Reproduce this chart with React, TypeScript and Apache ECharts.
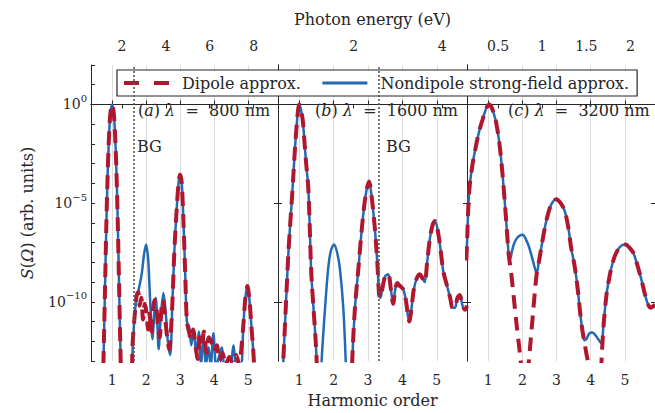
import React, { useEffect, useRef } from "react";
import * as echarts from "echarts";

// ---------- data ----------
const harmonicTicks = [1, 2, 3, 4, 5];
const energyTicksA = [2, 4, 6, 8];
const energyTicksB = [2, 4];
const energyTicksC = [0.5, 1, 1.5, 2];
const wavelengthsNm = [800, 1600, 3200];
const panelLetters = ["a", "b", "c"];
const bandGapHarmonicA = 1.65;
const bandGapHarmonicB = 3.3;
const yExpLabels = [-10, -5, 0];

// [harmonic order, log10 S]
const aNsfa = [
  [0.38, -16], [0.7, -16], [0.73, -14.2], [0.76, -12], [0.79, -9.5], [0.83, -6.2], [0.87, -3.5], [0.91, -1.6], [0.95, -0.45],
  [1.0, 0], [1.05, -0.45], [1.09, -1.6], [1.13, -3.5], [1.17, -6.2], [1.21, -9.5], [1.24, -12], [1.27, -14.2], [1.3, -16],
  [1.55, -16], [1.59, -13], [1.65, -11], [1.72, -9.8], [1.78, -9.4], [1.87, -8.6], [1.94, -7.6], [2.0, -7.1], [2.06, -7.8],
  [2.1, -9.2], [2.13, -10.3], [2.19, -11.9], [2.24, -10.6], [2.29, -9.8], [2.33, -11], [2.37, -12.4], [2.43, -10.8],
  [2.51, -9.55], [2.58, -10.6], [2.64, -12], [2.71, -12.7], [2.77, -10.2], [2.83, -7.5], [2.9, -5.3], [2.96, -3.9],
  [3.0, -3.55], [3.05, -4.0], [3.1, -6.0], [3.15, -8.5], [3.2, -11], [3.27, -11.3], [3.33, -12.2], [3.4, -11.4],
  [3.48, -12.8], [3.55, -11.5], [3.62, -13.2], [3.69, -11.7], [3.76, -13.2], [3.84, -12.3], [3.9, -13.3], [3.98, -11.6],
  [4.06, -13.3], [4.14, -12.8], [4.23, -12.3], [4.31, -13.4], [4.4, -13.1], [4.48, -13.3], [4.57, -12.2], [4.66, -13.4],
  [4.74, -13.1], [4.8, -13.2], [4.86, -11.2], [4.92, -9.8], [4.98, -9.2], [5.04, -9.9], [5.1, -11.3], [5.17, -13],
  [5.22, -16], [5.88, -16],
];
const aDipole = [
  [0.38, -16], [0.7, -16], [0.73, -14.2], [0.76, -12], [0.79, -9.5], [0.83, -6.2], [0.87, -3.5], [0.91, -1.6], [0.95, -0.45],
  [1.0, 0], [1.05, -0.45], [1.09, -1.6], [1.13, -3.5], [1.17, -6.2], [1.21, -9.5], [1.24, -12], [1.27, -14.2], [1.3, -16],
  [1.55, -16], [1.6, -12.3], [1.66, -10.8], [1.72, -9.7], [1.77, -9.5], [1.81, -10.2], [1.86, -9.8], [1.91, -10.9],
  [1.96, -10.1], [2.01, -10.5], [2.06, -11.4], [2.1, -10.6], [2.15, -11.6], [2.2, -10.4], [2.25, -9.9], [2.3, -10.2],
  [2.35, -11.3], [2.4, -11.8], [2.45, -10.4], [2.5, -9.9], [2.56, -10.8], [2.62, -11.8], [2.68, -12.4], [2.72, -11.8],
  [2.77, -10.2], [2.83, -7.5], [2.9, -5.3], [2.96, -3.9], [3.0, -3.55], [3.05, -4.0], [3.1, -6.0], [3.15, -8.5],
  [3.2, -11], [3.26, -11.5], [3.32, -11.9], [3.38, -11.4], [3.46, -12.3], [3.52, -12.9], [3.58, -11.8], [3.64, -12.2],
  [3.7, -11.5], [3.78, -12.6], [3.84, -11.8], [3.92, -12.0], [4.0, -12.5], [4.08, -12.2], [4.16, -13.0], [4.25, -12.6],
  [4.34, -13.2], [4.45, -12.8], [4.55, -13.1], [4.65, -12.7], [4.74, -13.2], [4.8, -12.4], [4.86, -11.2], [4.92, -9.8],
  [4.98, -9.2], [5.04, -9.9], [5.1, -11.3], [5.17, -13], [5.22, -16], [5.88, -16],
];

const bNsfa = [
  [0.38, -16], [0.5, -16], [0.535, -13], [0.58, -11.3], [0.63, -9.4], [0.68, -7.6], [0.73, -6.2], [0.78, -4.9], [0.83, -3.5],
  [0.875, -2.2], [0.93, -0.9], [0.97, -0.2], [1.0, 0], [1.04, -0.2], [1.1, -0.8], [1.15, -1.9], [1.2, -3.0], [1.26, -4.2],
  [1.3, -6.0], [1.34, -8.2], [1.37, -9.2], [1.42, -10.5], [1.47, -11.8], [1.51, -13.2], [1.55, -16], [1.6, -16],
  [1.65, -13], [1.75, -10.3], [1.84, -8.3], [1.92, -7.4], [2.01, -7.1], [2.1, -7.5], [2.18, -8.3], [2.28, -10.3],
  [2.35, -13], [2.4, -16], [2.5, -16], [2.54, -13], [2.62, -10.3], [2.72, -8.3], [2.83, -6.1], [2.93, -4.6], [3.03, -3.9],
  [3.1, -4.6], [3.2, -6.3], [3.28, -8.3], [3.32, -9.6], [3.36, -9.8], [3.42, -9.3], [3.5, -8.7], [3.59, -8.6], [3.66, -9.3],
  [3.73, -10.1], [3.79, -9.4], [3.85, -9.05], [3.93, -9.2], [4.02, -9.35], [4.1, -9.9], [4.16, -10.7], [4.2, -11.0],
  [4.26, -10.4], [4.33, -9.4], [4.42, -8.8], [4.51, -8.6], [4.58, -8.8], [4.65, -9.0], [4.72, -8.0], [4.8, -6.8],
  [4.88, -6.1], [4.95, -5.9], [5.02, -6.3], [5.1, -7.2], [5.19, -8.45], [5.3, -9.2], [5.39, -9.8], [5.46, -10.3],
  [5.53, -10.3], [5.6, -9.8], [5.67, -9.65], [5.75, -10.2], [5.82, -10.4], [5.88, -10.2],
];
const bDipole = [
  [0.38, -16], [0.5, -16], [0.535, -13], [0.58, -11.3], [0.63, -9.4], [0.68, -7.6], [0.73, -6.2], [0.78, -4.9], [0.83, -3.5],
  [0.875, -2.2], [0.93, -0.9], [0.97, -0.2], [1.0, 0], [1.04, -0.2], [1.1, -0.8], [1.15, -1.9], [1.2, -3.0], [1.26, -4.2],
  [1.3, -6.0], [1.34, -8.2], [1.37, -9.2], [1.42, -10.5], [1.47, -11.8], [1.51, -13.2], [1.55, -16], [2.5, -16],
  [2.54, -13], [2.62, -10.3], [2.72, -8.3], [2.83, -6.1], [2.93, -4.6], [3.03, -3.9], [3.1, -4.6], [3.2, -6.3],
  [3.28, -8.3], [3.32, -9.6], [3.36, -9.8], [3.42, -9.3], [3.5, -8.7], [3.59, -8.6], [3.66, -9.3], [3.73, -10.1],
  [3.79, -9.4], [3.85, -9.05], [3.93, -9.2], [4.02, -9.35], [4.1, -9.9], [4.16, -10.7], [4.2, -11.0], [4.26, -10.4],
  [4.33, -9.4], [4.42, -8.8], [4.51, -8.6], [4.58, -8.8], [4.65, -9.0], [4.72, -8.0], [4.8, -6.8], [4.88, -6.1],
  [4.95, -5.9], [5.02, -6.3], [5.1, -7.2], [5.19, -8.45], [5.3, -9.2], [5.39, -9.8], [5.46, -10.3], [5.53, -10.3],
  [5.6, -9.8], [5.67, -9.65], [5.75, -10.2], [5.82, -10.4], [5.88, -10.2],
];

const cNsfa = [
  [0.36, -7.9], [0.39, -6.6], [0.42, -5.1], [0.46, -4.1], [0.54, -3.05], [0.62, -2.3], [0.69, -1.7], [0.76, -1.2],
  [0.83, -0.8], [0.9, -0.4], [0.97, -0.1], [1.03, 0], [1.1, -0.15], [1.17, -0.5], [1.23, -0.9], [1.32, -1.86],
  [1.42, -3.55], [1.52, -5.75], [1.6, -7.6], [1.64, -7.85], [1.7, -7.4], [1.77, -7.0], [1.88, -6.7], [2.01, -6.6],
  [2.12, -6.9], [2.21, -7.3], [2.32, -8.0], [2.42, -8.55], [2.48, -8.0], [2.55, -7.3], [2.63, -6.5], [2.72, -5.75],
  [2.85, -5.05], [2.99, -4.8], [3.12, -5.0], [3.24, -5.4], [3.34, -6.2], [3.43, -7.3], [3.51, -8.0], [3.58, -8.8],
  [3.64, -9.7], [3.7, -10.7], [3.76, -11.5], [3.81, -11.95], [3.87, -11.9], [3.96, -11.6], [4.05, -11.55], [4.14, -11.7],
  [4.22, -11.9], [4.31, -12.1], [4.38, -11.0], [4.46, -9.65], [4.53, -8.9], [4.6, -8.3], [4.7, -7.7], [4.8, -7.35],
  [4.9, -7.15], [5.02, -7.1], [5.13, -7.25], [5.24, -7.5], [5.34, -8.0], [5.44, -8.6], [5.52, -9.15], [5.59, -9.65],
  [5.67, -10.1], [5.74, -10.3], [5.81, -10.25], [5.88, -10.15],
];
const cDipole = [
  [0.36, -7.9], [0.39, -6.6], [0.42, -5.1], [0.46, -4.1], [0.54, -3.05], [0.62, -2.3], [0.69, -1.7], [0.76, -1.2],
  [0.83, -0.8], [0.9, -0.4], [0.97, -0.1], [1.03, 0], [1.1, -0.15], [1.17, -0.5], [1.23, -0.9], [1.32, -1.86],
  [1.42, -3.55], [1.52, -5.75], [1.6, -7.6], [1.67, -8.5], [1.75, -9.8], [1.84, -11.3], [1.92, -12.5], [1.98, -13.6],
  [2.03, -16], [2.12, -16], [2.17, -13.5], [2.24, -12.0], [2.3, -10.8], [2.36, -9.6], [2.42, -8.55], [2.48, -8.0],
  [2.55, -7.3], [2.63, -6.5], [2.72, -5.75], [2.85, -5.05], [2.99, -4.8], [3.12, -5.0], [3.24, -5.4], [3.34, -6.2],
  [3.43, -7.3], [3.51, -8.0], [3.58, -8.8], [3.64, -9.7], [3.7, -10.7], [3.76, -11.5], [3.81, -12.0], [3.87, -12.6],
  [3.95, -13.4], [4.0, -16], [4.26, -16], [4.31, -13.2], [4.38, -11.1], [4.46, -9.65], [4.53, -8.9], [4.6, -8.3],
  [4.7, -7.7], [4.8, -7.35], [4.9, -7.15], [5.02, -7.1], [5.13, -7.25], [5.24, -7.5], [5.34, -8.0], [5.44, -8.6],
  [5.52, -9.15], [5.59, -9.65], [5.67, -10.1], [5.74, -10.3], [5.81, -10.25], [5.88, -10.15],
];

// ---------- styling ----------
const FONT = "'DejaVu Serif', serif";
const TXT = "#262626";
const BLUE = "#2369b3";
const RED = "#b0172f";
const X_MIN = 0.38;
const X_MAX = 5.88;
const Y_MIN = -13;
const Y_MAX = 2;
const NSFA = "Nondipole strong-field approx.";
const DIP = "Dipole approx.";

const gridBoxes = [
  { left: 91, top: 65, width: 187, height: 296 },
  { left: 278, top: 65, width: 189, height: 296 },
  { left: 467, top: 65, width: 190, height: 296 },
];
const energyTicks = [energyTicksA, energyTicksB, energyTicksC];
const nsfaSets = [aNsfa, bNsfa, cNsfa];
const dipSets = [aDipole, bDipole, cDipole];
const bandGaps = [bandGapHarmonicA, bandGapHarmonicB, null];
const labelLefts = [138, 315, 508];
const bgLefts = [137, 386];

function buildOption() {
  const photonEnergy = wavelengthsNm.map((l) => 1239.84 / l);
  const axisLine = { show: true, lineStyle: { color: TXT, width: 1 } };
  const tickStyle = { color: TXT, width: 1 };
  const labelBase = { fontFamily: FONT, fontSize: 14, color: TXT };

  const xAxis: any[] = [];
  const yAxis: any[] = [];
  const series: any[] = [];
  [0, 1, 2].forEach((i) => {
    xAxis.push({
      type: "value",
      gridIndex: i,
      position: "bottom",
      min: X_MIN,
      max: X_MAX,
      name: i === 1 ? "Harmonic order" : "",
      nameLocation: "middle",
      nameGap: 31,
      nameTextStyle: { fontFamily: FONT, fontSize: 16, color: TXT },
      axisLine,
      axisTick: { show: true, inside: true, length: 4, customValues: harmonicTicks, lineStyle: tickStyle },
      axisLabel: { ...labelBase, customValues: harmonicTicks, margin: 12 },
      splitLine: { show: true, lineStyle: { color: "#dddddd", width: 1 } },
    });
    xAxis.push({
      type: "value",
      gridIndex: i,
      position: "top",
      min: X_MIN * photonEnergy[i],
      max: X_MAX * photonEnergy[i],
      name: i === 1 ? "Photon energy (eV)" : "",
      nameLocation: "middle",
      nameGap: 38,
      nameTextStyle: { fontFamily: FONT, fontSize: 16, color: TXT },
      axisLine,
      axisTick: { show: true, inside: true, length: 4, customValues: energyTicks[i], lineStyle: tickStyle },
      axisLabel: { ...labelBase, customValues: energyTicks[i], margin: 12 },
      splitLine: { show: false },
    });
    yAxis.push({
      type: "value",
      gridIndex: i,
      position: "left",
      min: Y_MIN,
      max: Y_MAX,
      interval: 1,
      name: i === 0 ? "{i|S}({i|Ω}) (arb. units)" : "",
      nameLocation: "middle",
      nameGap: 56,
      nameTextStyle: {
        fontFamily: FONT,
        fontSize: 16,
        color: TXT,
        rich: { i: { fontStyle: "italic", fontFamily: FONT, fontSize: 16, color: TXT } },
      },
      axisLine,
      axisTick: {
        show: true,
        inside: true,
        length: 4,
        lineStyle: tickStyle,
        ...(i === 0 ? {} : { customValues: yExpLabels }),
      },
      axisLabel: {
        show: i === 0,
        customValues: yExpLabels,
        margin: 4,
        formatter: (v: number) => {
          const e = Math.round(v);
          return `{b|10}{s|${e < 0 ? "−" + -e : e}}`;
        },
        rich: {
          b: { fontFamily: FONT, fontSize: 14, color: TXT, lineHeight: 16, verticalAlign: "middle" },
          s: { fontFamily: FONT, fontSize: 10, color: TXT, lineHeight: 10, padding: [0, 0, 12, 0], verticalAlign: "middle" },
        },
      },
      splitLine: { show: false },
    });
    yAxis.push({
      type: "value",
      gridIndex: i,
      position: "right",
      min: Y_MIN,
      max: Y_MAX,
      interval: 1,
      axisLine,
      axisTick: { show: true, inside: true, length: 4, customValues: yExpLabels, lineStyle: tickStyle },
      axisLabel: { show: false },
      splitLine: { show: false },
    });

    series.push({
      type: "line",
      name: NSFA,
      xAxisIndex: 2 * i,
      yAxisIndex: 2 * i,
      data: nsfaSets[i],
      symbol: "none",
      showSymbol: false,
      smooth: 0.3,
      clip: true,
      z: 2,
      lineStyle: { color: BLUE, width: 2.5 },
      itemStyle: { color: BLUE },
    });
    const bg = bandGaps[i];
    series.push({
      type: "line",
      name: DIP,
      xAxisIndex: 2 * i,
      yAxisIndex: 2 * i,
      data: dipSets[i],
      symbol: "none",
      showSymbol: false,
      smooth: 0.3,
      clip: true,
      z: 3,
      lineStyle: { color: RED, width: 4, type: [14, 8], cap: "butt" },
      itemStyle: { color: RED },
      markLine:
        bg === null
          ? undefined
          : {
              silent: true,
              symbol: "none",
              label: { show: false },
              lineStyle: { color: "#555555", width: 1.6, type: [2, 2] },
              data: [{ xAxis: bg }],
            },
    });
  });

  const graphic: any[] = [];
  [0, 1, 2].forEach((i) => {
    graphic.push({
      type: "text",
      left: labelLefts[i],
      top: 102,
      z: 10,
      style: {
        text: `({i|${panelLetters[i]}}) {i|λ}  =  ${wavelengthsNm[i]} nm`,
        fontFamily: FONT,
        fontSize: 16,
        fill: TXT,
        rich: { i: { fontStyle: "italic", fontFamily: FONT, fontSize: 16, fill: TXT } },
      },
    });
  });
  bgLefts.forEach((x) => {
    graphic.push({
      type: "text",
      left: x,
      top: 138,
      z: 10,
      style: { text: "BG", fontFamily: FONT, fontSize: 16, fill: TXT },
    });
  });

  return {
    animation: false,
    backgroundColor: "#ffffff",
    grid: gridBoxes.map((g) => ({ ...g, containLabel: false })),
    xAxis,
    yAxis,
    series,
    legend: {
      left: 117,
      top: 70,
      orient: "horizontal",
      itemWidth: 45,
      itemHeight: 14,
      itemGap: 20,
      padding: [5, 8, 5, 5],
      borderColor: TXT,
      borderWidth: 1.2,
      borderRadius: 0,
      backgroundColor: "#ffffff",
      textStyle: { fontFamily: FONT, fontSize: 16, color: TXT, padding: [0, 0, 0, 8] },
      data: [
        { name: DIP, itemStyle: { opacity: 0 }, lineStyle: { type: [15, 15], width: 4, color: RED } },
        { name: NSFA, itemStyle: { opacity: 0 }, lineStyle: { width: 3, color: BLUE } },
      ],
    },
    graphic,
  };
}

export default function App() {
  const ref = useRef<HTMLDivElement>(null);
  useEffect(() => {
    if (!ref.current) return;
    const chart = echarts.init(ref.current, undefined, { renderer: "svg" });
    chart.setOption(buildOption() as any);
    return () => chart.dispose();
  }, []);
  return (
    <div
      ref={ref}
      style={{ position: "absolute", left: 0, top: 0, width: 655, height: 413, background: "#fff" }}
    />
  );
}
